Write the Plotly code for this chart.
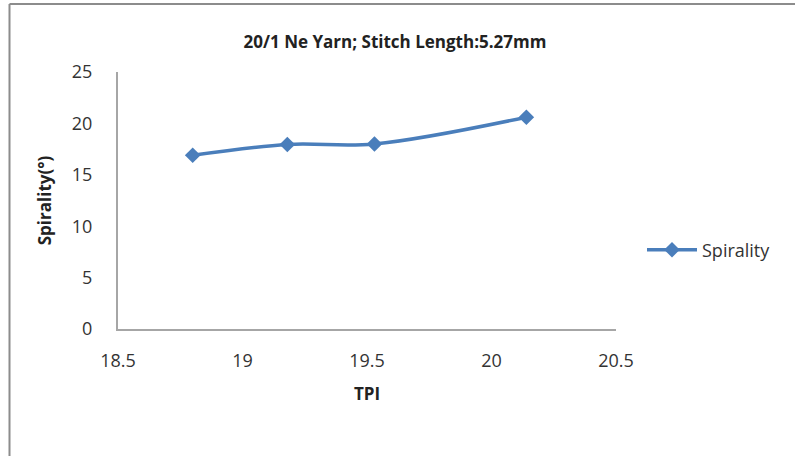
import plotly.graph_objects as go

# Spirality measured against yarn twist (TPI), 20/1 Ne yarn, stitch length 5.27 mm
tpi = [18.80, 19.18, 19.53, 20.14]
spirality = [16.9, 17.95, 18.0, 20.6]
series_name = "Spirality"
chart_title = "20/1 Ne Yarn; Stitch Length:5.27mm"

W, H = 795, 456
L, R, T, B = 118, 616, 72, 329  # plot area edges in pixels
blue = "#4A7EBB"
axis_grey = "#A6A6A6"
font_family = "'Open Sans', Lato, sans-serif"

fig = go.Figure()
fig.add_trace(go.Scatter(
    x=tpi, y=spirality, name=series_name,
    mode="lines+markers",
    line=dict(color=blue, width=3.5, shape="spline", smoothing=1.0),
    marker=dict(symbol="diamond", size=12, color=blue),
))

def px_x(p):
    return (p - L) / (R - L)

def px_y(p):
    return (B - p) / (B - T)

# outer chart frame (left and top edges)
frame = dict(type="line", xref="paper", yref="paper",
             line=dict(color="#8C8C8C", width=2), layer="above")
fig.update_layout(shapes=[
    dict(frame, x0=px_x(9.5), x1=px_x(9.5), y0=px_y(4), y1=px_y(H + 5)),
    dict(frame, x0=px_x(9.5), x1=px_x(W + 5), y0=px_y(4), y1=px_y(4)),
])

fig.update_layout(
    width=W, height=H,
    margin=dict(l=L, r=W - R, t=T, b=H - B),
    paper_bgcolor="white", plot_bgcolor="white",
    font=dict(family=font_family, size=18, color="#333333"),
    title=dict(text="<b>" + chart_title + "</b>", x=395 / W, xanchor="center",
               y=1 - 42 / H, yanchor="middle",
               font=dict(size=17, color="#222222")),
    showlegend=True,
    legend=dict(x=px_x(642), y=px_y(250), xanchor="left", yanchor="middle",
                font=dict(size=18, color="#333333"), bgcolor="rgba(0,0,0,0)",
                itemwidth=50),
    xaxis=dict(range=[18.5, 20.5], dtick=0.5, tick0=18.5,
               showline=True, linecolor=axis_grey, linewidth=2,
               showgrid=False, zeroline=False, ticks="",
               ticklabelstandoff=14,
               title=dict(text="<b>TPI</b>", standoff=18,
                          font=dict(size=17, color="#222222"))),
    yaxis=dict(range=[0, 25], dtick=5, tick0=0,
               showline=True, linecolor=axis_grey, linewidth=2,
               showgrid=False, zeroline=False, ticks="",
               ticklabelstandoff=20,
               title=dict(text="<b>Spirality(°)</b>", standoff=16,
                          font=dict(size=17, color="#222222"))),
)

fig.write_html("out.html")
